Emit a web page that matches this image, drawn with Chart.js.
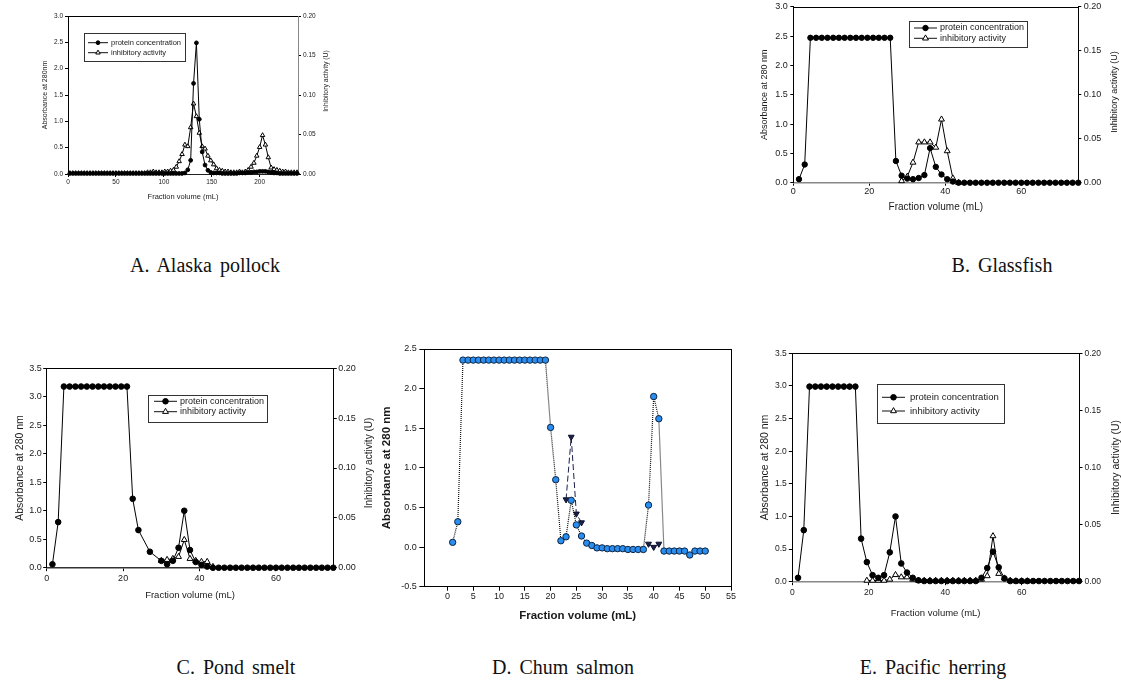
<!DOCTYPE html>
<html>
<head>
<meta charset="utf-8">
<title>Gel filtration profiles</title>
<script src="https://cdn.jsdelivr.net/npm/chart.js@4/dist/chart.umd.min.js"></script>
<style>
  body { margin: 0; background: #fff; width: 1121px; height: 688px; position: relative; overflow: hidden; }
  .panel { position: absolute; }
  .panel canvas { display: block; }
  .caption {
    position: absolute; transform: translate(-50%, -50%);
    font-family: 'Liberation Serif', 'DejaVu Serif', serif; font-size: 20px;
    color: #111; white-space: nowrap; word-spacing: 3px;
  }
</style>
</head>
<body>
<div class="caption" style="left:205px; top:265px">A. Alaska pollock</div>
<div class="caption" style="left:1002px; top:265px">B. Glassfish</div>
<div class="caption" style="left:236px; top:667px">C. Pond smelt</div>
<div class="caption" style="left:563px; top:667px">D. Chum salmon</div>
<div class="caption" style="left:933px; top:667px">E. Pacific herring</div>

<script>
// ---- A. Alaska pollock ----
const volA = [2,5,8,11,14,17,20,23,26,29,32,35,38,41,44,47,50,53,56,59,
  62,65,68,71,74,77,80,83,86,89,92,95,98,101,104,107,110,113,116,119,
  122,125,128,131,134,137,140,143,146,149,152,155,158,161,164,167,170,173,176,179,
  182,185,188,191,194,197,200,203,206,209,212,215,218,221,224,227,230,233,236,239];
const proteinA = [0.01,0.01,0.01,0.01,0.01,0.01,0.01,0.01,0.01,0.01,
  0.01,0.01,0.01,0.01,0.01,0.01,0.01,0.01,0.01,0.01,
  0.01,0.01,0.01,0.01,0.01,0.01,0.01,0.01,0.01,0.01,
  0.01,0.01,0.01,0.01,0.01,0.01,0.01,0.01,0.01,0.01,
  0.02,0.08,0.26,1.72,2.49,1.04,0.42,0.17,0.07,0.03,
  0.02,0.02,0.02,0.01,0.01,0.01,0.01,0.01,0.01,0.02,
  0.02,0.02,0.03,0.03,0.04,0.04,0.05,0.05,0.05,0.04,
  0.03,0.02,0.02,0.01,0.01,0.01,0.01,0.01,0.01,0.01];
const activityA = [0.001,0.001,0.001,0.001,0.001,0.001,0.001,0.001,0.001,0.001,
  0.001,0.001,0.001,0.001,0.001,0.001,0.001,0.001,0.001,0.001,
  0.001,0.001,0.001,0.001,0.001,0.001,0.001,0.002,0.002,0.003,
  0.002,0.002,0.002,0.003,0.003,0.004,0.005,0.009,0.016,0.025,
  0.037,0.035,0.059,0.089,0.073,0.052,0.035,0.032,0.023,0.017,
  0.012,0.007,0.005,0.004,0.003,0.003,0.002,0.002,0.002,0.003,
  0.002,0.003,0.005,0.009,0.014,0.023,0.034,0.049,0.037,0.021,
  0.008,0.006,0.005,0.004,0.003,0.003,0.002,0.002,0.002,0.002];

// ---- B. Glassfish ----
const volB = [1.5,3,4.5,6,7.5,9,10.5,12,13.5,15,16.5,18,19.5,21,22.5,24,25.5,27,28.5,30,
  31.5,33,34.5,36,37.5,39,40.5,42,43.5,45,46.5,48,49.5,51,52.5,54,55.5,57,58.5,60,
  61.5,63,64.5,66,67.5,69,70.5,72,73.5,75];
const proteinB = [0.06,0.31,2.47,2.47,2.47,2.47,2.47,2.47,2.47,2.47,2.47,2.47,2.47,2.47,2.47,2.47,2.47,
  0.37,0.12,0.07,0.06,0.08,0.13,0.59,0.27,0.14,0.06,0.02,
  0,0,0,0,0,0,0,0,0,0,0,0,0,0,0,0,0,0,0,0,0,0];
const actVolB = [28.5,30,31.5,33,34.5,36,37.5,39,40.5,42,43.5];
const activityB = [0.002,0.007,0.023,0.046,0.046,0.046,0.040,0.072,0.036,0.005,0.000];

// ---- C. Pond smelt ----
const volC = [1.5,3,4.5,6,7.5,9,10.5,12,13.5,15,16.5,18,19.5,21,22.5,24,27,30,31.5,33,
  34.5,36,37.5,39,40.5,42,43.5,45,46.5,48,49.5,51,52.5,54,55.5,57,58.5,60,61.5,63,
  64.5,66,67.5,69,70.5,72,73.5,75];
const proteinC = [0.06,0.8,3.18,3.18,3.18,3.18,3.18,3.18,3.18,3.18,3.18,3.18,3.18,3.18,
  1.21,0.66,0.28,0.12,0.06,0.12,0.35,1.0,0.31,0.1,0.05,0.02,
  0,0,0,0,0,0,0,0,0,0,0,0,0,0,0,0,0,0,0,0,0,0];
const actVolC = [30,31.5,33,34.5,36,37.5,39,40.5,42,43.5];
const activityC = [0.007,0.008,0.009,0.011,0.028,0.009,0.007,0.006,0.006,0.001];

// ---- D. Chum salmon ----
const volD = [1,2,3,4,5,6,7,8,9,10,11,12,13,14,15,16,17,18,19,20,21,22,23,24,25,
  26,27,28,29,30,31,32,33,34,35,36,37,38,39,40,41,42,43,44,45,46,47,48,49,50];
const proteinD = [0.06,0.32,2.36,2.36,2.36,2.36,2.36,2.36,2.36,2.36,2.36,2.36,2.36,2.36,2.36,2.36,2.36,2.36,2.36,
  1.51,0.85,0.08,0.13,0.59,0.28,0.14,0.05,0.02,-0.01,-0.01,-0.02,-0.02,-0.02,-0.02,-0.03,-0.03,-0.03,-0.03,
  0.53,1.90,1.62,-0.05,-0.05,-0.05,-0.05,-0.05,-0.10,-0.05,-0.05,-0.05];
const actVolD = [23,24,25,26,39,40,41];
const activityD = [0.60,1.39,0.42,0.31,0.04,0.00,0.04];

// ---- E. Pacific herring ----
const volE = volB;
const proteinE = [0.06,0.79,2.99,2.99,2.99,2.99,2.99,2.99,2.99,2.99,2.99,
  0.66,0.30,0.10,0.06,0.10,0.45,1.00,0.28,0.14,0.06,0.02,
  0.01,0.01,0.01,0.01,0.01,0.01,0.01,0.01,0.01,0.01,
  0.06,0.21,0.46,0.22,0.05,
  0.01,0.01,0.01,0.01,0.01,0.01,0.01,0.01,0.01,0.01,0.01,0.01,0.01];
const actVolE = [19.5,21,22.5,24,25.5,27,28.5,30,31.5,33,34.5,36,37.5,39,40.5,42,43.5,45,46.5,48,
  49.5,51,52.5,54,55.5,57,58.5,60,61.5];
const activityE = [0.001,0.001,0.001,0.001,0.002,0.006,0.004,0.004,0.002,0.001,
  0.001,0.001,0.001,0.001,0.001,0.001,0.001,0.001,0.001,0.001,
  0.002,0.005,0.040,0.007,0.003,0.001,0.0005,0.0005,0.0005];

// tick labels
const xTicksA = [0, 50, 100, 150, 200];
const xTicks75 = [0, 20, 40, 60];
const xTicksD = [0, 5, 10, 15, 20, 25, 30, 35, 40, 45, 50, 55];
const yTicks30 = [0, 0.5, 1.0, 1.5, 2.0, 2.5, 3.0];
const yTicks35 = [0, 0.5, 1.0, 1.5, 2.0, 2.5, 3.0, 3.5];
const yTicksD = [-0.5, 0, 0.5, 1.0, 1.5, 2.0, 2.5];
const uTicks = [0, 0.05, 0.10, 0.15, 0.20];

const SANS = "'Liberation Sans', Arial, sans-serif";
const INK = '#1a1a1a';

const pts = (xs, ys) => xs.map((x, i) => ({ x, y: ys[i] }));

function drawMarker(ctx, ds, x, y) {
  const r = ds.pointRadius;
  ctx.save();
  ctx.fillStyle = ds.pointBackgroundColor;
  ctx.strokeStyle = ds.pointBorderColor;
  ctx.lineWidth = 1;
  ctx.beginPath();
  if (ds.pointStyle === 'triangle') {
    ctx.moveTo(x, y - r);
    ctx.lineTo(x + r * 0.866, y + r * 0.5);
    ctx.lineTo(x - r * 0.866, y + r * 0.5);
    ctx.closePath();
  } else {
    ctx.arc(x, y, r, 0, Math.PI * 2);
  }
  ctx.fill();
  ctx.stroke();
  ctx.restore();
}

// legend drawn inside a framed box
const boxLegend = {
  id: 'boxLegend',
  afterDraw(chart, args, o) {
    if (!o || !o.box) return;
    const { ctx } = chart;
    const [bx, by, bw, bh] = o.box;
    ctx.save();
    ctx.strokeStyle = '#333';
    ctx.lineWidth = 1;
    ctx.strokeRect(Math.round(bx) + 0.5, Math.round(by) + 0.5, Math.round(bw), Math.round(bh));
    ctx.font = o.size + 'px ' + SANS;
    ctx.textBaseline = 'middle';
    ctx.textAlign = 'left';
    chart.data.datasets.forEach((ds, i) => {
      const y = o.rows[i];
      ctx.strokeStyle = '#111';
      ctx.beginPath();
      ctx.moveTo(o.line[0], y);
      ctx.lineTo(o.line[1], y);
      ctx.stroke();
      drawMarker(ctx, ds, (o.line[0] + o.line[1]) / 2, y);
      ctx.fillStyle = INK;
      ctx.fillText(ds.label, o.textX, y);
    });
    ctx.restore();
  }
};

// right-hand axis title reading bottom to top
const sideTitle = {
  id: 'sideTitle',
  afterDraw(chart, args, o) {
    if (!o || !o.text) return;
    const { ctx } = chart;
    ctx.save();
    ctx.translate(o.x, o.y);
    ctx.rotate(-Math.PI / 2);
    ctx.font = o.size + 'px ' + SANS;
    ctx.fillStyle = INK;
    ctx.textAlign = 'center';
    ctx.textBaseline = 'middle';
    ctx.fillText(o.text, 0, 0);
    ctx.restore();
  }
};

// closing lines of the plot frame
const frame = {
  id: 'frame',
  afterDatasetsDraw(chart, args, o) {
    const a = chart.chartArea;
    const { ctx } = chart;
    ctx.save();
    ctx.strokeStyle = o.color || '#000';
    ctx.lineWidth = 1;
    ctx.beginPath();
    ctx.moveTo(a.left, Math.round(a.top) + 0.5);
    ctx.lineTo(a.right, Math.round(a.top) + 0.5);
    if (o.right) {
      ctx.moveTo(Math.round(a.right) + 0.5, a.top);
      ctx.lineTo(Math.round(a.right) + 0.5, a.bottom);
    }
    ctx.stroke();
    ctx.restore();
  }
};

function gridOpts(len, color) {
  return { display: true, drawOnChartArea: false, drawTicks: true, tickLength: len, color: color, tickColor: color };
}

function makePanel(p) {
  const left = Math.round(p.titleLeftX - 0.6 * p.font.titleL);
  const top = Math.round(p.area.top - 12);
  const right = Math.round(p.canvasRight);
  const bottom = Math.round(p.titleBottomY + 0.6 * p.font.titleB);

  const box = document.createElement('div');
  box.className = 'panel';
  box.style.left = left + 'px';
  box.style.top = top + 'px';
  const cv = document.createElement('canvas');
  cv.width = right - left;
  cv.height = bottom - top;
  cv.style.width = cv.width + 'px';
  cv.style.height = cv.height + 'px';
  box.appendChild(cv);
  document.body.appendChild(box);

  const titleWeight = p.bold ? 'bold' : 'normal';
  const scales = {
    x: {
      type: 'linear', position: 'bottom', min: p.xMin, max: p.xMax,
      afterBuildTicks: s => { s.ticks = p.xTicks.map(v => ({ value: v })); },
      afterFit: s => { s.height = bottom - p.area.bottom; s.paddingLeft = 0; s.paddingRight = 0; },
      ticks: { autoSkip: false, maxRotation: 0, padding: p.xPad, color: INK,
        font: { family: SANS, size: p.font.tick }, callback: v => String(v) },
      grid: gridOpts(p.tickLen, '#000'),
      border: { display: true, color: p.xAxisColor, width: p.xAxisWidth },
      title: { display: true, text: 'Fraction volume (mL)', padding: 0, color: INK,
        font: { family: SANS, size: p.font.titleB, weight: titleWeight } }
    },
    y: {
      type: 'linear', position: 'left', min: p.yTicks[0], max: p.yTicks[p.yTicks.length - 1],
      afterBuildTicks: s => { s.ticks = p.yTicks.map(v => ({ value: v })); },
      afterFit: s => { s.width = p.area.left - left; s.paddingTop = 0; s.paddingBottom = 0; },
      ticks: { autoSkip: false, padding: p.yPad, color: INK,
        font: { family: SANS, size: p.font.tick }, callback: v => v.toFixed(1) },
      grid: gridOpts(p.yTickLen || p.tickLen, '#000'),
      border: { display: true, color: '#000', width: 1 },
      title: { display: true, text: p.yTitle, padding: 0, color: INK,
        font: { family: SANS, size: p.font.titleL, weight: titleWeight } }
    }
  };
  if (p.activityAxis) {
    scales.y1 = {
      type: 'linear', position: 'right', min: 0, max: 0.2,
      afterBuildTicks: s => { s.ticks = uTicks.map(v => ({ value: v })); },
      afterFit: s => { s.width = right - p.area.right; s.paddingTop = 0; s.paddingBottom = 0; },
      ticks: { autoSkip: false, padding: p.yPad, color: INK,
        font: { family: SANS, size: p.font.tick }, callback: v => v.toFixed(2) },
      grid: gridOpts(p.tickLen, '#000'),
      border: { display: true, color: p.rightAxisColor || '#000', width: 1 }
    };
  }

  const plugins = { legend: { display: false }, tooltip: { enabled: false },
    frame: { right: !p.activityAxis, color: '#000' } };
  if (p.legend) {
    const L = p.legend;
    plugins.boxLegend = {
      box: [L.box[0] - left, L.box[1] - top, L.box[2], L.box[3]],
      rows: L.rows.map(v => v - top), line: L.line.map(v => v - left),
      textX: L.textX - left, size: L.size
    };
  }
  if (p.rightTitle) {
    plugins.sideTitle = { text: 'Inhibitory activity (U)', x: p.rightTitle.x - left,
      y: p.rightTitle.y - top, size: p.font.titleR };
  }

  return new Chart(cv, {
    type: 'line',
    data: { datasets: p.datasets },
    options: {
      responsive: false,
      animation: false,
      events: [],
      layout: { padding: { top: p.area.top - top, left: 0, bottom: 0,
        right: p.activityAxis ? 0 : right - p.area.right } },
      scales: scales,
      plugins: plugins
    },
    plugins: [boxLegend, sideTitle, frame]
  });
}

function proteinSet(xs, ys, r) {
  return { label: 'protein concentration', data: pts(xs, ys), yAxisID: 'y',
    borderColor: '#000', borderWidth: 1, tension: 0, clip: false,
    pointStyle: 'circle', pointRadius: r, pointBackgroundColor: '#000',
    pointBorderColor: '#000', pointBorderWidth: 1 };
}
function activitySet(xs, ys, r) {
  return { label: 'inhibitory activity', data: pts(xs, ys), yAxisID: 'y1',
    borderColor: '#000', borderWidth: 1, tension: 0, clip: false,
    pointStyle: 'triangle', pointRadius: r, pointBackgroundColor: '#fff',
    pointBorderColor: '#000', pointBorderWidth: 1 };
}

// A. Alaska pollock
makePanel({
  area: { left: 68, top: 16, right: 298, bottom: 174 },
  titleLeftX: 45, titleBottomY: 196.7, canvasRight: 340,
  rightTitle: { x: 326, y: 81 },
  font: { tick: 6.5, titleL: 7, titleB: 7.5, titleR: 6.8 },
  tickLen: 3, xPad: 1, yPad: 2,
  xMin: 0, xMax: 240, xTicks: xTicksA, yTicks: yTicks30,
  yTitle: 'Absorbance at 280nm', activityAxis: true,
  xAxisColor: '#222', xAxisWidth: 1, rightAxisColor: '#888',
  legend: { box: [84, 33, 101, 28], rows: [42.7, 52.7], line: [88, 108], textX: 111, size: 7.5 },
  datasets: [proteinSet(volA, proteinA, 1.9), activitySet(volA, activityA, 2.6)]
});

// B. Glassfish
makePanel({
  area: { left: 793.3, top: 6.7, right: 1078.3, bottom: 182.7 },
  titleLeftX: 764, titleBottomY: 207.3, canvasRight: 1121,
  rightTitle: { x: 1115, y: 92 },
  font: { tick: 9, titleL: 9, titleB: 10, titleR: 9 },
  tickLen: 3, xPad: 0, yPad: 2.5,
  xMin: 0, xMax: 75, xTicks: xTicks75, yTicks: yTicks30,
  yTitle: 'Absorbance at 280 nm', activityAxis: true,
  xAxisColor: '#888', xAxisWidth: 1.5,
  legend: { box: [909, 21, 118, 26], rows: [28, 38.3], line: [914, 937], textX: 940, size: 9 },
  datasets: [proteinSet(volB, proteinB, 2.7), activitySet(actVolB, activityB, 3.4)]
});

// C. Pond smelt
makePanel({
  area: { left: 46.7, top: 368.3, right: 333.3, bottom: 567.7 },
  titleLeftX: 20, titleBottomY: 595, canvasRight: 376,
  rightTitle: { x: 369, y: 463 },
  font: { tick: 9, titleL: 10.5, titleB: 9.5, titleR: 10 },
  tickLen: 3.5, xPad: 2, yPad: 1.5,
  xMin: 0, xMax: 75, xTicks: xTicks75, yTicks: yTicks35,
  yTitle: 'Absorbance at 280 nm', activityAxis: true,
  xAxisColor: '#333', xAxisWidth: 1.5,
  legend: { box: [148, 395, 119, 27], rows: [401.3, 411.7], line: [154, 177], textX: 180, size: 9 },
  datasets: [proteinSet(volC, proteinC, 2.8), activitySet(actVolC, activityC, 3.4)]
});

// D. Chum salmon
makePanel({
  area: { left: 424.3, top: 349, right: 731, bottom: 586.7 },
  titleLeftX: 387.3, titleBottomY: 616, canvasRight: 745,
  font: { tick: 9, titleL: 11.5, titleB: 11.5 }, bold: true,
  tickLen: 4, yTickLen: 5, xPad: 0, yPad: 2.5,
  xMin: -4.5, xMax: 55, xTicks: xTicksD, yTicks: yTicksD,
  yTitle: 'Absorbance at 280 nm', activityAxis: false,
  xAxisColor: '#000', xAxisWidth: 1,
  datasets: [
    { label: 'protein', data: pts(volD, proteinD), yAxisID: 'y',
      borderColor: '#111', borderWidth: 1.2, borderDash: [1, 1], tension: 0, clip: false,
      pointStyle: 'circle', pointRadius: 3.2, pointBackgroundColor: '#2a8ef0',
      pointBorderColor: '#0c2340', pointBorderWidth: 1 },
    { label: 'activity', data: pts(actVolD, activityD), yAxisID: 'y',
      borderColor: '#1b1f4a', borderWidth: 1, borderDash: [6, 3], tension: 0, clip: false,
      segment: { borderColor: c => (c.p1.parsed.x - c.p0.parsed.x > 1 ? 'rgba(0,0,0,0)' : '#1b1f4a') },
      pointStyle: 'triangle', pointRotation: 180, pointRadius: 3.4,
      pointBackgroundColor: '#1b1f4a', pointBorderColor: '#0d0f2a', pointBorderWidth: 1 }
  ]
});

// E. Pacific herring
makePanel({
  area: { left: 792.3, top: 353.3, right: 1079, bottom: 581.7 },
  titleLeftX: 765, titleBottomY: 613.3, canvasRight: 1121,
  rightTitle: { x: 1116, y: 467.5 },
  font: { tick: 8.5, titleL: 10.5, titleB: 9.5, titleR: 10.5 },
  tickLen: 3.5, xPad: 2.5, yPad: 2,
  xMin: 0, xMax: 75, xTicks: xTicks75, yTicks: yTicks35,
  yTitle: 'Absorbance at 280 nm', activityAxis: true,
  xAxisColor: '#888', xAxisWidth: 1.5,
  legend: { box: [877, 384, 127, 39], rows: [397.3, 411], line: [882, 905], textX: 910, size: 9.5 },
  datasets: [proteinSet(volE, proteinE, 2.8), activitySet(actVolE, activityE, 3.4)]
});
</script>
</body>
</html>
